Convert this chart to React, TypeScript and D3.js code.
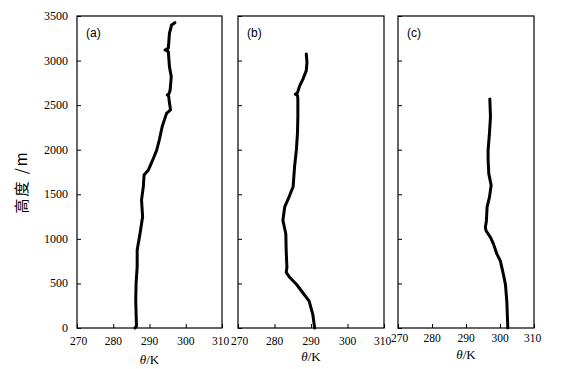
import React, { useEffect, useRef } from 'react';
import * as d3 from 'd3';

// potential temperature profiles (theta in K vs height in m)
const heightA = [0, 20, 314, 500, 688, 875, 1062, 1249, 1436, 1586, 1716, 1773, 1885, 1997, 2109, 2259, 2408, 2446, 2558, 2600, 2614, 2630, 2670, 2820, 2932, 3100, 3119, 3140, 3306, 3399, 3425];
const thetaA = [286.0, 286.4, 286.2, 286.3, 286.6, 286.6, 287.4, 288.1, 287.8, 288.3, 288.5, 289.7, 290.9, 292.0, 292.7, 293.5, 294.7, 295.8, 295.4, 295.3, 294.9, 295.4, 295.7, 296.0, 295.5, 295.2, 294.3, 295.2, 295.5, 296.1, 297.0];

const heightB = [0, 151, 302, 415, 491, 566, 623, 679, 868, 1057, 1208, 1358, 1472, 1585, 1811, 2000, 2189, 2377, 2566, 2610, 2623, 2640, 2717, 2792, 2887, 2981, 3075];
const thetaB = [291.0, 290.5, 289.5, 287.4, 286.0, 284.2, 283.2, 283.4, 283.2, 283.1, 282.3, 282.8, 284.0, 285.1, 285.5, 286.0, 286.3, 286.4, 286.4, 286.3, 285.7, 286.3, 286.9, 287.8, 288.7, 288.9, 288.7];

const heightC = [0, 301, 489, 602, 753, 828, 941, 1016, 1091, 1129, 1204, 1355, 1468, 1600, 1732, 1882, 1995, 2183, 2371, 2570];
const thetaC = [302.3, 302.0, 301.6, 301.0, 300.1, 299.1, 298.1, 297.2, 295.9, 295.7, 296.0, 296.2, 296.9, 297.4, 296.7, 296.5, 296.5, 296.9, 297.2, 297.0];

const panelLabels = ['(a)', '(b)', '(c)'];
const xTicks = [270, 280, 290, 300, 310];
const yTicks = [0, 500, 1000, 1500, 2000, 2500, 3000, 3500];

const panels = [
  { label: panelLabels[0], h: heightA, t: thetaA, x0: 77, x1: 222, tickY: 345, titleY: 364 },
  { label: panelLabels[1], h: heightB, t: thetaB, x0: 238, x1: 384, tickY: 345, titleY: 361 },
  { label: panelLabels[2], h: heightC, t: thetaC, x0: 398, x1: 534, tickY: 342, titleY: 359 },
];

const App = () => {
  const svgRef = useRef<SVGSVGElement>(null);

  useEffect(() => {
    const svg = d3.select(svgRef.current);
    svg.selectAll('*').remove();

    const top = 16;
    const bottom = 328;
    const yScale = d3.scaleLinear().domain([0, 3500]).range([bottom, top]);
    const font = '"Liberation Serif", "DejaVu Serif", serif';

    panels.forEach((p, i) => {
      const xScale = d3.scaleLinear().domain([270, 310]).range([p.x0, p.x1]);
      const g = svg.append('g');

      g.append('rect')
        .attr('x', p.x0)
        .attr('y', top)
        .attr('width', p.x1 - p.x0)
        .attr('height', bottom - top)
        .attr('fill', 'none')
        .attr('stroke', '#000')
        .attr('stroke-width', 1.2);

      // x axis, ticks pointing inward
      const xAxis = g
        .append('g')
        .attr('transform', `translate(0,${bottom})`)
        .call(d3.axisTop(xScale).tickValues(xTicks).tickSize(4).tickFormat(() => ''));
      xAxis.select('.domain').remove();
      xAxis.selectAll('line').attr('stroke', '#000');

      g.selectAll('.xlab')
        .data(xTicks)
        .enter()
        .append('text')
        .attr('x', (d) => xScale(d) + (d === 310 ? -1.5 : d === 270 ? 1.5 : 0))
        .attr('y', p.tickY)
        .attr('text-anchor', 'middle')
        .style('font-family', font)
        .style('font-size', '11.5px')
        .text((d) => d);

      // y axis, ticks pointing inward
      const yAxis = g
        .append('g')
        .attr('transform', `translate(${p.x0},0)`)
        .call(d3.axisRight(yScale).tickValues(yTicks).tickSize(4).tickFormat(() => ''));
      yAxis.select('.domain').remove();
      yAxis.selectAll('line').attr('stroke', '#000');

      if (i === 0) {
        g.selectAll('.ylab')
          .data(yTicks)
          .enter()
          .append('text')
          .attr('x', 68)
          .attr('y', (d) => yScale(d) + 4)
          .attr('text-anchor', 'end')
          .style('font-family', font)
          .style('font-size', '12px')
          .text((d) => d);
      }

      const title = g
        .append('text')
        .attr('x', (p.x0 + p.x1) / 2)
        .attr('y', p.titleY)
        .attr('text-anchor', 'middle')
        .style('font-family', font)
        .style('font-size', '13px');
      title.append('tspan').style('font-style', 'italic').text('θ');
      title.append('tspan').text('/K');

      g.append('text')
        .attr('x', p.x0 + 9)
        .attr('y', 37)
        .style('font-family', '"Liberation Sans", Arial, sans-serif')
        .style('font-size', '12px')
        .text(p.label);

      const line = d3
        .line<number>()
        .x((_, j) => xScale(p.t[j]))
        .y((d) => yScale(d));

      g.append('path')
        .attr('d', line(p.h))
        .attr('fill', 'none')
        .attr('stroke', '#000')
        .attr('stroke-width', 3)
        .attr('stroke-linejoin', 'round')
        .attr('stroke-linecap', 'round');
    });

    svg
      .append('text')
      .attr('transform', 'translate(27,182) rotate(-90)')
      .attr('text-anchor', 'middle')
      .style('font-family', '"Noto Sans CJK SC", sans-serif')
      .style('font-size', '15px')
      .style('letter-spacing', '2px')
      .text('高度 /m');
  }, []);

  return (
    <svg
      ref={svgRef}
      width={574}
      height={369}
      style={{ position: 'absolute', left: 0, top: 0, background: '#fff' }}
    ></svg>
  );
};

export default App;
